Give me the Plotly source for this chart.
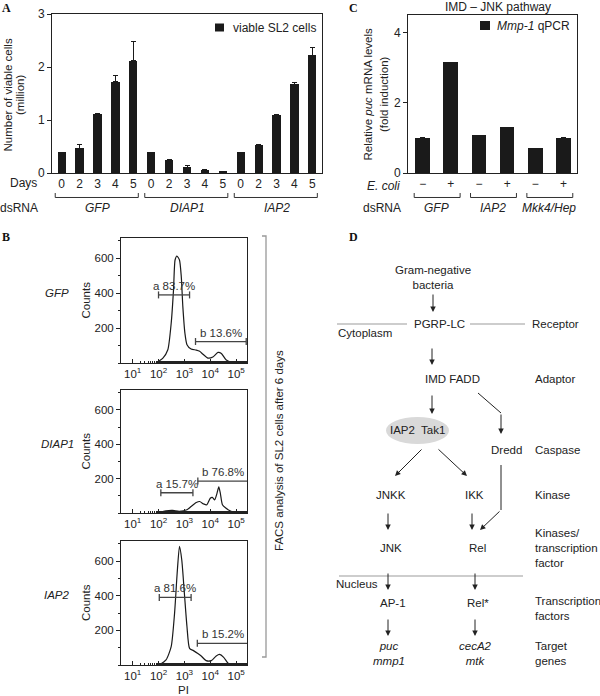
import numpy as np
import plotly.graph_objects as go

W, H = 600, 696


def px(x):
    return x / W


def py(y):
    return 1 - y / H


FONT = "Liberation Sans, Arial, sans-serif"
INK = "#1a1a1a"

# ---- panel A: viable cells ----
a_groups = ["GFP", "DIAP1", "IAP2"]
a_days = ["0", "2", "3", "4", "5"]
a_gfp = [0.39, 0.47, 1.12, 1.72, 2.12]
a_gfp_err = [0.0, 0.06, 0.01, 0.12, 0.37]
a_diap1 = [0.39, 0.24, 0.11, 0.06, 0.03]
a_diap1_err = [0.0, 0.01, 0.03, 0.01, 0.005]
a_iap2 = [0.39, 0.52, 1.09, 1.67, 2.22]
a_iap2_err = [0.0, 0.01, 0.01, 0.03, 0.14]

# ---- panel C: puc qPCR ----
c_groups = ["GFP", "IAP2", "Mkk4/Hep"]
c_ecoli = ["\u2212", "+"]
c_values = [1.01, 3.16, 1.08, 1.31, 0.71, 0.99]
c_err = [0.0, 0.0, 0.0, 0.0, 0.0, 0.015]

# ---- panel B: FACS histograms (PI in log10 units, counts) ----
gfp_pi = [1.9, 2.17, 2.36, 2.49, 2.58, 2.64, 2.71, 2.81, 2.88, 2.94, 3.02, 3.1,
          3.26, 3.46, 3.59, 3.72, 3.91, 4.1, 4.3, 4.43, 4.62, 4.88]
gfp_counts = [0, 28, 76, 228, 419, 590, 613, 590, 495, 323, 171, 105,
              80, 74, 67, 50, 28, 34, 61, 55, 17, 0]
diap1_pi = [1.9, 2.29, 2.55, 2.8, 3.1, 3.26, 3.46, 3.59, 3.74, 3.87, 4.0, 4.08,
            4.17, 4.26, 4.33, 4.39, 4.47, 4.6, 4.76, 4.95]
diap1_counts = [0, 13, 15, 10, 19, 38, 61, 67, 53, 48, 86, 91,
                76, 114, 152, 114, 48, 29, 13, 0]
iap2_pi = [2.03, 2.29, 2.49, 2.62, 2.72, 2.81, 2.9, 3.0, 3.1, 3.2, 3.35, 3.52,
           3.65, 3.84, 4.04, 4.23, 4.36, 4.52, 4.69, 4.88]
iap2_counts = [0, 29, 106, 298, 528, 685, 605, 413, 221, 96, 83, 67,
               52, 25, 25, 52, 61, 44, 10, 0]

hist_names = ["GFP", "DIAP1", "IAP2"]
hist_pi = [gfp_pi, diap1_pi, iap2_pi]
hist_counts = [gfp_counts, diap1_counts, iap2_counts]
gate_a = [(2.0, 3.2, 390, "a 83.7%"), (2.09, 3.33, 118, "a 15.7%"), (2.03, 3.26, 390, "a 81.6%")]
gate_b = [(3.43, 5.39, 123, "b 13.6%"), (3.52, 5.45, 186, "b 76.8%"), (3.5, 5.45, 125, "b 15.2%")]
hist_top = [238, 390, 541]
hist_bottom = [363, 513, 665]

# ---- panel D: pathway diagram (pixel positions) ----
d_nodes = [
    ("Gram-negative<br>bacteria", 433, 277, "center", False),
    ("PGRP-LC", 439, 324, "center", False),
    ("Cytoplasm", 365, 333, "center", False),
    ("IMD FADD", 452, 379, "center", False),
    ("IAP2  Tak1", 417, 430, "center", False),
    ("Dredd", 506, 450, "center", False),
    ("JNKK", 391, 495, "center", False),
    ("IKK", 474, 495, "center", False),
    ("JNK", 391, 548, "center", False),
    ("Rel", 477, 548, "center", False),
    ("Nucleus", 357, 584, "center", False),
    ("AP-1", 393, 603, "center", False),
    ("Rel*", 478, 603, "center", False),
    ("puc<br>mmp1", 389, 653, "center", True),
    ("cecA2<br>mtk", 475, 653, "center", True),
    ("Receptor", 530, 324, "left", False),
    ("Adaptor", 533, 379, "left", False),
    ("Caspase", 533, 450, "left", False),
    ("Kinase", 533, 495, "left", False),
    ("Kinases/<br>transcription<br>factor", 533, 548, "left", False),
    ("Transcription<br>factors", 533, 608, "left", False),
    ("Target<br>genes", 533, 653, "left", False),
]
d_arrows = [  # tail x, tail y, head x, head y
    (433, 293, 433, 312), (432, 347, 432, 365), (432, 394, 432, 414),
    (501, 413, 501, 434), (423, 448, 395, 476), (437, 448, 467, 476),
    (388, 512, 388, 530), (472, 512, 472, 530), (501, 510, 480, 530),
    (388, 572, 388, 590), (475, 572, 475, 590),
    (388, 618, 388, 636), (475, 618, 475, 636),
]
d_segments = [(478, 393, 501, 413), (501, 465, 501, 510)]
d_membranes = [(337, 324, 407, 324), (470, 324, 525, 324), (339, 576, 523, 576)]

fig = go.Figure()

# panel A bars
a_vals = a_gfp + a_diap1 + a_iap2
a_errs = a_gfp_err + a_diap1_err + a_iap2_err
a_idx = list(range(len(a_vals)))
fig.add_trace(go.Bar(
    x=a_idx, y=a_vals, width=0.46, marker_color=INK, marker_line_width=0,
    error_y=dict(type="data", symmetric=False, array=a_errs, arrayminus=[0] * len(a_errs),
                 color=INK, thickness=1, width=2.5),
    xaxis="x", yaxis="y", showlegend=False))

# panel C bars
c_idx = list(range(len(c_values)))
fig.add_trace(go.Bar(
    x=c_idx, y=c_values, width=0.52, marker_color=INK, marker_line_width=0,
    error_y=dict(type="data", symmetric=False, array=c_err, arrayminus=[0] * len(c_err),
                 color=INK, thickness=1, width=2.5),
    xaxis="x2", yaxis="y2", showlegend=False))

# panel B histograms
for i in range(3):
    xa, ya = "x%d" % (i + 3), "y%d" % (i + 3)
    fig.add_trace(go.Scatter(
        x=10 ** np.array(hist_pi[i]), y=hist_counts[i], mode="lines",
        line=dict(color=INK, width=1.2, shape="spline", smoothing=0.6),
        xaxis=xa, yaxis=ya, showlegend=False))
    for g in (gate_a[i], gate_b[i]):
        fig.add_trace(go.Scatter(
            x=[10 ** g[0], 10 ** g[1]], y=[g[2], g[2]], mode="lines+markers",
            line=dict(color="#444", width=1.3),
            marker=dict(symbol="line-ns-open", size=5, line=dict(color="#444", width=1.3)),
            xaxis=xa, yaxis=ya, showlegend=False))
        fig.add_annotation(x=(g[0] + g[1]) / 2, y=g[2], xref=xa, yref=ya, text=g[3],
                           showarrow=False, xanchor="center", yanchor="bottom", yshift=1,
                           font=dict(size=11.5, color="#333"))

# overlay axis for the diagram
fig.add_trace(go.Scatter(x=[], y=[], xaxis="x6", yaxis="y6", showlegend=False))

axis_common = dict(showline=True, linecolor="#222", linewidth=1, mirror=True,
                   showgrid=False, zeroline=False, tickcolor="#222", automargin=False,
                   tickfont=dict(size=12, color="#222"))

layout = dict(
    width=W, height=H, margin=dict(l=0, r=0, t=0, b=0, autoexpand=False),
    paper_bgcolor="white", plot_bgcolor="rgba(0,0,0,0)",
    font=dict(family=FONT, color="#222"),
    bargap=0,
    xaxis=dict(axis_common, domain=[px(52), px(322)], range=[-0.54, 14.54],
               tickvals=a_idx, ticktext=a_days * 3, ticks="", anchor="y"),
    yaxis=dict(axis_common, domain=[py(173), py(14)], range=[0, 3], dtick=1,
               ticks="outside", ticklen=4, anchor="x"),
    xaxis2=dict(axis_common, domain=[px(408), px(577)], range=[-0.52, 5.48],
                tickvals=c_idx, ticktext=c_ecoli * 3, ticks="", anchor="y2"),
    yaxis2=dict(axis_common, domain=[py(173), py(15)], range=[0, 4.5],
                tickvals=[0, 2, 4], ticks="outside", ticklen=4, anchor="x2"),
    xaxis6=dict(domain=[0, 1], range=[0, W], visible=False, anchor="y6", automargin=False),
    yaxis6=dict(domain=[0, 1], range=[H, 0], visible=False, anchor="x6", automargin=False),
)
for i in range(3):
    n = i + 3
    layout["xaxis%d" % n] = dict(
        axis_common, type="log", domain=[px(121), px(247)], range=[0.55, 5.42],
        tickvals=[10, 100, 1000, 10000, 100000],
        ticktext=["10<sup>%d</sup>" % k for k in range(1, 6)],
        ticks="inside", ticklen=4,
        minor=dict(ticks="inside", ticklen=2, tickcolor="#222"),
        tickfont=dict(size=11.5, color="#222"), anchor="y%d" % n)
    layout["yaxis%d" % n] = dict(
        axis_common, domain=[py(hist_bottom[i]), py(hist_top[i])], range=[0, 716],
        tickvals=[200, 400, 600], ticks="outside", ticklen=4,
        minor=dict(ticks="outside", ticklen=2, dtick=100, tickcolor="#222"),
        tickfont=dict(size=11.5, color="#222"), anchor="x%d" % n)
fig.update_layout(**layout)


def label(text, x, y, size=12, xanchor="center", **kw):
    fig.add_annotation(x=px(x), y=py(y), xref="paper", yref="paper", text=text,
                       showarrow=False, xanchor=xanchor, yanchor="middle",
                       font=dict(size=size, color=kw.pop("color", "#222"),
                                 family=kw.pop("family", FONT)), **kw)


# panel letters
for letter, x, y in [("A", 6, 8), ("B", 6, 237), ("C", 353, 8), ("D", 353, 237)]:
    label("<b>%s</b>" % letter, x, y, color="#111", family="Liberation Serif, serif")

# panel A texts
label("Number of viable cells", 7.5, 95, size=11.5, textangle=-90)
label("(million)", 20, 95, size=11.5, textangle=-90)
label("Days", 23, 183)
label("dsRNA", 19, 208)
fig.add_shape(type="rect", xref="paper", yref="paper", x0=px(215), x1=px(224), y0=py(31.5),
              y1=py(23.5), fillcolor=INK, line_width=0)
label("viable SL2 cells", 231, 27.5, xanchor="left")
for g, name in enumerate(a_groups):
    x0, x1 = g * 5 - 0.36, g * 5 + 4.28
    fig.add_shape(type="path", xref="x", yref="paper", line=dict(color="#333", width=1),
                  path="M %f,%f L %f,%f L %f,%f L %f,%f" % (x0, py(193), x0, py(197.5),
                                                          x1, py(197.5), x1, py(193)))
    fig.add_annotation(x=g * 5 + 2, y=py(208), xref="x", yref="paper", text="<i>%s</i>" % name,
                       showarrow=False, xanchor="center", yanchor="middle",
                       font=dict(size=12, color="#222"))

# panel C texts
label("IMD \u2013 JNK pathway", 498, 7)
label("Relative <i>puc</i> mRNA levels", 367.5, 94, size=11.5, textangle=-90)
label("(fold induction)", 384, 94, size=11.5, textangle=-90)
label("<i>E. coli</i>", 383, 186)
label("dsRNA", 382, 208)
fig.add_shape(type="rect", xref="paper", yref="paper", x0=px(480), x1=px(490), y0=py(30),
              y1=py(21), fillcolor=INK, line_width=0)
label("<i>Mmp-1</i> qPCR", 495, 25.5, xanchor="left")
for g, name in enumerate(c_groups):
    x0, x1 = g * 2 - 0.3, g * 2 + 1.33
    fig.add_shape(type="path", xref="x2", yref="paper", line=dict(color="#333", width=1),
                  path="M %f,%f L %f,%f L %f,%f L %f,%f" % (x0, py(193), x0, py(197.5),
                                                          x1, py(197.5), x1, py(193)))
    fig.add_annotation(x=g * 2 + 0.5, y=py(208), xref="x2", yref="paper", text="<i>%s</i>" % name,
                       showarrow=False, xanchor="center", yanchor="middle",
                       font=dict(size=12, color="#222"))

# panel B texts
for i in range(3):
    mid = (hist_top[i] + hist_bottom[i]) / 2
    label("Counts", 86, mid, size=11.5, textangle=-90)
    label("<i>%s</i>" % hist_names[i], 57, mid - 8, size=11.5)
label("PI", 183, 690, size=11.5)
fig.add_shape(type="path", xref="x6", yref="y6", line=dict(color="#999", width=1.3),
              path="M 262,236 L 266,236 L 266,657 L 262,657")
label("FACS analysis of SL2 cells after 6 days", 279, 451, size=11.5, textangle=-90)

# panel D diagram
for x0, y0, x1, y1 in d_membranes:
    fig.add_shape(type="line", xref="x6", yref="y6", x0=x0, y0=y0, x1=x1, y1=y1,
                  line=dict(color="#bdbdbd", width=1.5))
fig.add_shape(type="circle", xref="x6", yref="y6", x0=386, x1=449, y0=417, y1=444,
              fillcolor="#d9d9d9", line_width=0, layer="below")
for x0, y0, x1, y1 in d_segments:
    fig.add_shape(type="line", xref="x6", yref="y6", x0=x0, y0=y0, x1=x1, y1=y1,
                  line=dict(color="#222", width=1))
for x0, y0, x1, y1 in d_arrows:
    fig.add_annotation(x=x1, y=y1, ax=x0, ay=y0, xref="x6", yref="y6", axref="x6", ayref="y6",
                       text="", showarrow=True, arrowhead=2, arrowsize=1.1, arrowwidth=1,
                       arrowcolor="#222", standoff=0, startstandoff=0)
for text, x, y, anchor, italic in d_nodes:
    fig.add_annotation(x=x, y=y, xref="x6", yref="y6",
                       text="<i>%s</i>" % text if italic else text,
                       showarrow=False, xanchor=anchor, align=anchor,
                       font=dict(size=11.5, color="#222"))

fig.write_html("out.html", config={"displayModeBar": False},
               post_script="document.body.style.margin='0px';")
